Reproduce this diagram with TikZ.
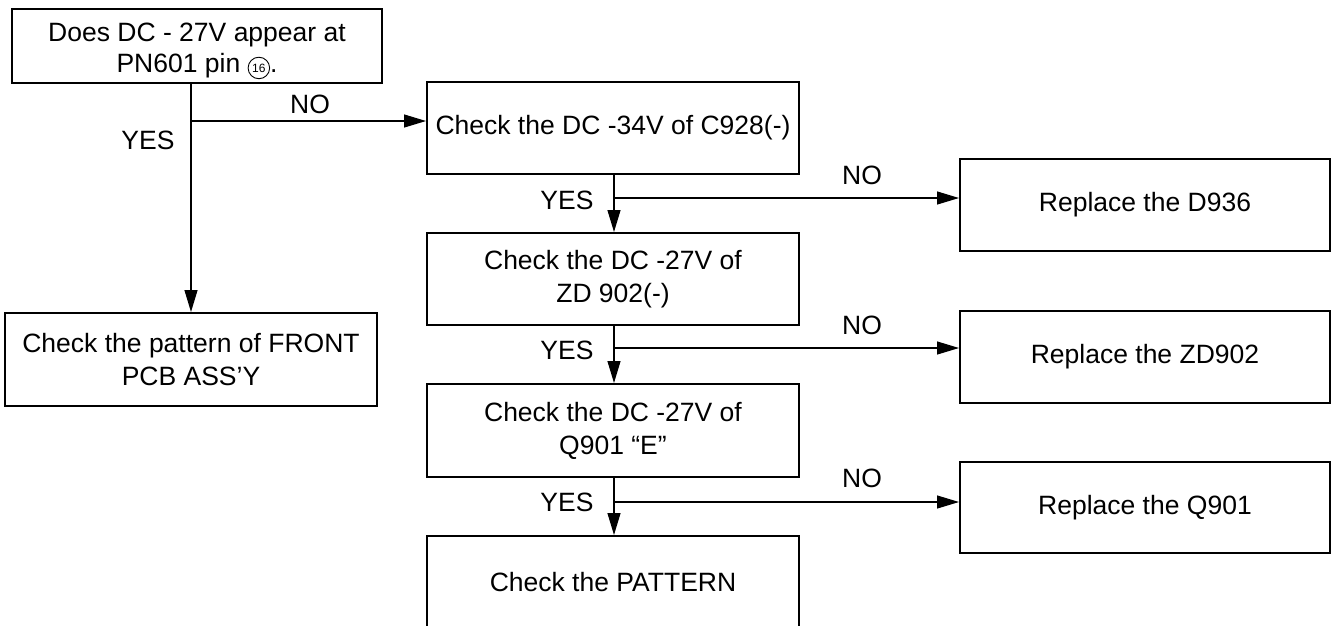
\documentclass[tikz,border=0pt]{standalone}
\usepackage{fontspec}
\setmainfont{Liberation Sans}
\usetikzlibrary{arrows.meta,calc}
\newcommand{\pincirc}[1]{\tikz[baseline=(pc.base)]\node[circle,draw,line width=0.9pt,inner sep=0.6pt,minimum size=21.5pt,font=\fontsize{12}{12}\selectfont] (pc) {#1};}
\tikzset{
  box/.style={draw,line width=2pt,minimum width=371pt,minimum height=92pt,align=center,inner sep=0pt,
    font=\fontsize{26.5}{33}\selectfont},
  lbl/.style={font=\fontsize{26.5}{33}\selectfont,inner sep=0pt},
  arr/.style={line width=1.2pt,-{Triangle[length=22pt,width=13pt]}},
  ln/.style={line width=1.2pt}
}
\begin{document}
\begin{tikzpicture}[x=1pt,y=-1pt]
\useasboundingbox (0,0) rectangle (1331,625);
% left column
\node[box,minimum width=370pt,minimum height=74pt] (a) at (197,46) {\raisebox{-4pt}[\height][\depth]{\begin{tabular}{@{}c@{}}Does DC - 27V appear at\\[-2pt]PN601 pin \pincirc{16}.\end{tabular}}};
\node[box,minimum width=372pt,minimum height=93pt] (pcb) at (191,359.5) {Check the pattern of FRONT\\PCB ASS'Y};
% middle column
\node[box,minimum width=372pt] (b) at (613,128) {\raisebox{1pt}{Check the DC -34V of C928(-)}};
\node[box,minimum width=372pt] (c) at (613,279) {Check the DC -27V of\\ZD 902(-)};
\node[box,minimum width=372pt,minimum height=93pt] (d) at (613,430.5) {Check the DC -27V of\\Q901 “E”};
\node[box,minimum width=372pt] (e) at (613,582) {Check the PATTERN};
% right column
\node[box,minimum width=370pt] (r1) at (1145,205) {Replace the D936};
\node[box,minimum width=370pt] (r2) at (1145,357) {Replace the ZD902};
\node[box,minimum width=370pt,minimum height=91pt] (r3) at (1145,507.5) {Replace the Q901};
% junction points
\coordinate (j0) at ($(a.south -| pcb.north)+(0,37)$);
\coordinate (j1) at ($(b.south)+(1,23)$);
\coordinate (j2) at ($(c.south)+(1,22)$);
\coordinate (j3) at ($(d.south)+(1,24)$);
% connectors
\draw[arr] (a.south -| pcb.north) -- (pcb.north);
\draw[arr] (j0) -- (j0 -| b.west);
\draw[arr] ($(b.south)+(1,0)$) -- ($(c.north)+(1,0)$);
\draw[arr] (j1) -- (j1 -| r1.west);
\draw[arr] ($(c.south)+(1,0)$) -- ($(d.north)+(1,0)$);
\draw[arr] (j2) -- (j2 -| r2.west);
\draw[arr] ($(d.south)+(1,0)$) -- ($(e.north)+(1,0)$);
\draw[arr] (j3) -- (j3 -| r3.west);
% labels
\node[lbl] (n0) at (310,104) {NO};
\node[lbl] (y0) at (148,140) {YES};
\node[lbl] (y1) at (567,200) {YES};
\node[lbl] (n1) at (862,175) {NO};
\node[lbl] (y2) at (567,350) {YES};
\node[lbl] (n2) at (862,325) {NO};
\node[lbl] (y3) at (567,502) {YES};
\node[lbl] (n3) at (862,478) {NO};
\end{tikzpicture}
\end{document}
